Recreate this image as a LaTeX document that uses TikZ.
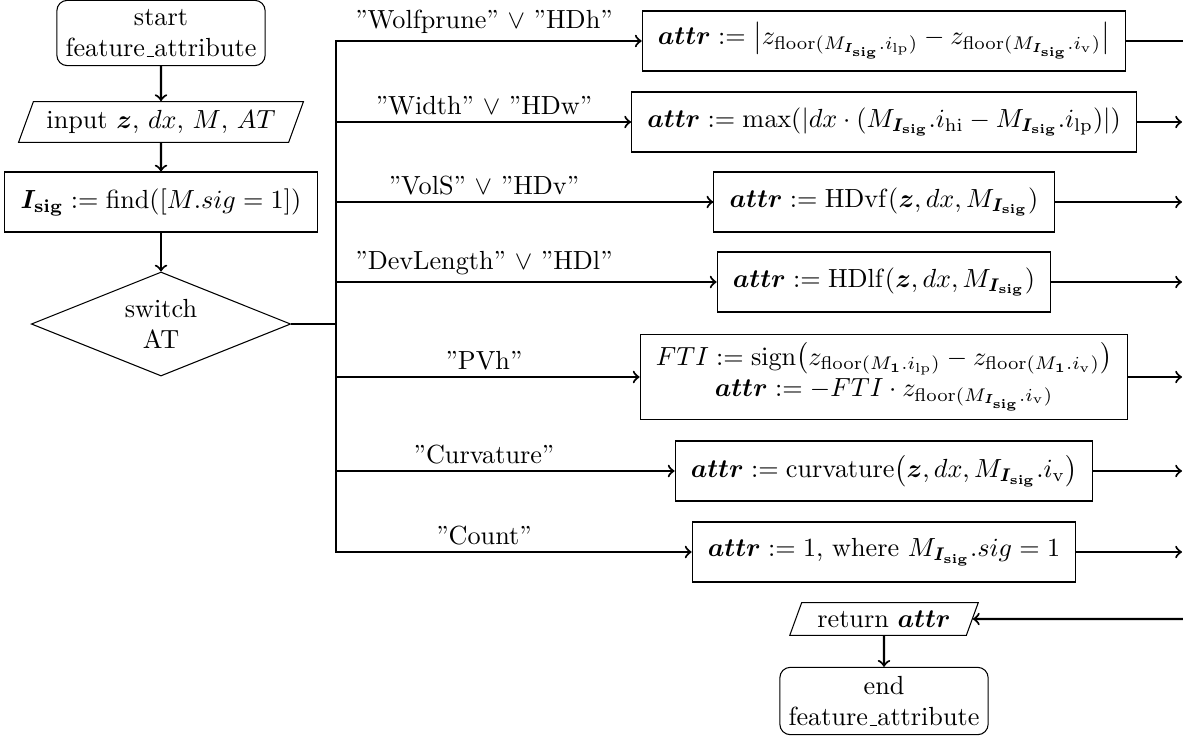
\documentclass[tikz,border=0pt]{standalone}
\usepackage{amsmath}
\usepackage{bm}
\usetikzlibrary{shapes.geometric,arrows}
\newcommand{\Isigx}{\bm{I}_{\mathbf{sig}}}
\newcommand{\battr}{\bm{attr}}
\newcommand{\usc}{\leavevmode\kern.06em\vbox{\hrule width.3em}}
\tikzset{
  proc/.style={draw, rectangle, minimum height=22.9pt, inner xsep=6pt, align=center, line width=0.4pt},
  term/.style={draw, rectangle, rounded corners=4pt, align=center, line width=0.4pt},
  io/.style={draw, trapezium, trapezium left angle=70, trapezium right angle=110, inner xsep=5pt, line width=0.4pt},
  dec/.style={draw, diamond, aspect=2.5, inner sep=0pt, minimum width=99pt, minimum height=39.7pt, align=center, line width=0.4pt},
  arr/.style={->, thick},
  conn/.style={thick},
  lbl/.style={above, inner sep=2.5pt}
}
\begin{document}
\begin{tikzpicture}[x=0.3817pt, y=-0.3817pt]
\useasboundingbox (0,0) rectangle (1183,739);
% left column
\node[term] (start) at (161,33) {start\\feature\usc attribute};
\node[io] (inp) at (161,122) {input $\bm{z}$, $dx$, $M$, $AT$};
\node[proc] (isig) at (161,202) {$\Isigx := \mathrm{find}([M.sig = 1])$};
\node[dec] (sw) at (161,324) {switch\\AT};
\draw[arr] (start) -- (inp);
\draw[arr] (inp) -- (isig);
\draw[arr] (isig) -- (sw);
% right boxes
\node[proc] (b1) at (884,41) {$\battr := \bigl\lvert z_{\mathrm{floor}(M_{\Isigx}.i_{\mathrm{lp}})} - z_{\mathrm{floor}(M_{\Isigx}.i_{\mathrm{v}})}\bigr\rvert$};
\node[proc] (b2) at (884,122) {$\battr := \max(\lvert dx\cdot(M_{\Isigx}.i_{\mathrm{hi}} - M_{\Isigx}.i_{\mathrm{lp}})\rvert)$};
\node[proc] (b3) at (884,202) {$\battr := \mathrm{HDvf}(\bm{z}, dx, M_{\Isigx})$};
\node[proc] (b4) at (884,282) {$\battr := \mathrm{HDlf}(\bm{z}, dx, M_{\Isigx})$};
\node[proc] (b5) at (884,377) {$FTI := \mathrm{sign}\bigl(z_{\mathrm{floor}(M_{\mathbf{1}}.i_{\mathrm{lp}})} - z_{\mathrm{floor}(M_{\mathbf{1}}.i_{\mathrm{v}})}\bigr)$\\ $\battr := -FTI\cdot z_{\mathrm{floor}(M_{\Isigx}.i_{\mathrm{v}})}$};
\node[proc] (b6) at (884,471) {$\battr := \mathrm{curvature}\bigl(\bm{z}, dx, M_{\Isigx}.i_{\mathrm{v}}\bigr)$};
\node[proc] (b7) at (884,552) {$\battr := 1$, where $M_{\Isigx}.sig = 1$};
% return / end
\node[io, inner ysep=3pt, inner xsep=6pt] (ret) at (884,619) {return $\battr$};
\node[term] (endn) at (884,701) {end\\feature\usc attribute};
\draw[arr] (ret) -- (endn);
% bus
\coordinate (bus) at (336,324);
\draw[conn] (sw.east) -- (bus);
\foreach \b/\t in {b1/{\textquotedblright Wolfprune'' $\vee$ \textquotedblright HDh''},
                   b2/{\textquotedblright Width'' $\vee$ \textquotedblright HDw''},
                   b3/{\textquotedblright VolS'' $\vee$ \textquotedblright HDv''},
                   b4/{\textquotedblright DevLength'' $\vee$ \textquotedblright HDl''},
                   b5/{\textquotedblright PVh''},
                   b6/{\textquotedblright Curvature''},
                   b7/{\textquotedblright Count''}}{
  \draw[arr] (bus) |- (\b.west);
  \path (bus |- \b.west) -- ++(296,0) node[midway, lbl] {\t};
}
% outgoing
\coordinate (o1) at (1195,41);
\coordinate (o2) at (1182,122);
\coordinate (o3) at (1182,202);
\coordinate (o4) at (1182,282);
\coordinate (o5) at (1182,377);
\coordinate (o6) at (1182,471);
\coordinate (o7) at (1182,552);
\foreach \i in {1,...,7}{ \draw[arr] (b\i.east) -- (o\i); }
\coordinate (rin) at (1195,619);
\draw[arr] (rin) -- (ret.east);
\end{tikzpicture}
\end{document}
